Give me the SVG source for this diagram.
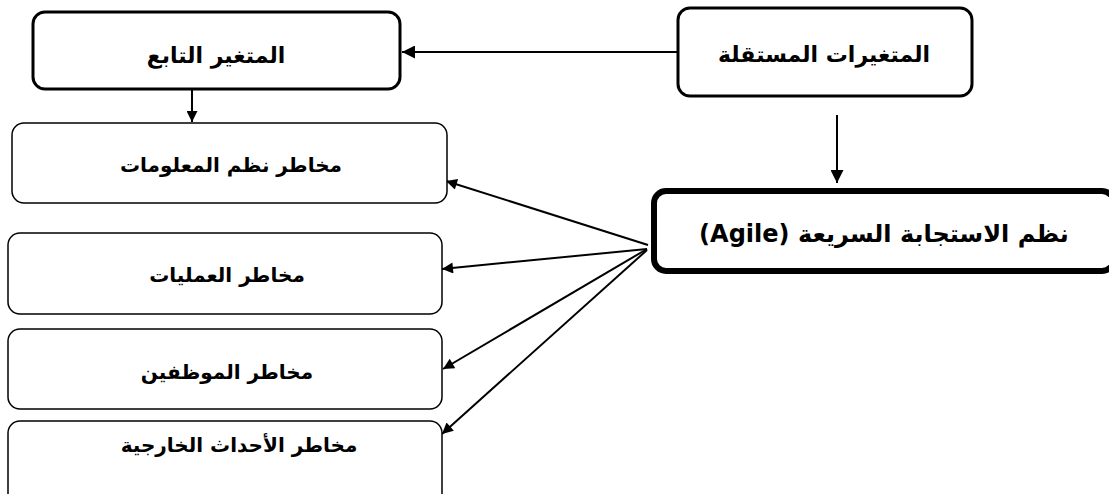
<svg xmlns="http://www.w3.org/2000/svg" width="1109" height="494" viewBox="0 0 1109 494">
<style>
.box{fill:#fff;stroke:#000;stroke-width:1.5}
.head{fill:#fff;stroke:#000;stroke-width:3}
.agile{fill:#fff;stroke:#000;stroke-width:6}
.t{font-family:"DejaVu Sans","Liberation Sans",sans-serif;font-weight:bold;text-anchor:middle;fill:#000}
.ln{stroke:#000;stroke-width:2;fill:none}
</style>
<defs>
<marker id="ah" viewBox="0 0 10 10" refX="10" refY="5" markerWidth="18" markerHeight="13" markerUnits="userSpaceOnUse" orient="auto"><path d="M0,0L10,5L0,10z" fill="#000"/></marker>
<marker id="as" viewBox="0 0 10 10" refX="10" refY="5" markerWidth="15" markerHeight="11" markerUnits="userSpaceOnUse" orient="auto"><path d="M0,0L10,5L0,10z" fill="#000"/></marker>
</defs>
<g id="connectors">
<line class="ln" x1="677" y1="52" x2="402" y2="52" marker-end="url(#ah)"/>
<line class="ln" x1="192" y1="90" x2="192" y2="122" marker-end="url(#as)"/>
<line class="ln" x1="837" y1="115" x2="837" y2="183" marker-end="url(#ah)"/>
<line class="ln" x1="648" y1="245" x2="446" y2="181" marker-end="url(#as)"/>
<line class="ln" x1="647" y1="249" x2="442" y2="269" marker-end="url(#as)"/>
<line class="ln" x1="647" y1="249" x2="443" y2="369" marker-end="url(#as)"/>
<line class="ln" x1="647" y1="250" x2="442" y2="434" marker-end="url(#as)"/>
</g>
<g id="dependent">
<rect class="head" x="33" y="12" width="367" height="77" rx="12"/>
<text class="t" x="216" y="63" font-size="22" direction="rtl">المتغير التابع</text>
</g>
<g id="independent">
<rect class="head" x="678" y="8" width="294" height="88" rx="12"/>
<text class="t" x="824" y="62" font-size="22" direction="rtl">المتغيرات المستقلة</text>
</g>
<g id="agile">
<rect class="agile" x="654" y="191" width="460" height="80" rx="12"/>
<text class="t" x="884" y="242" font-size="24" direction="rtl">نظم الاستجابة السريعة (Agile)</text>
</g>
<g id="risk1">
<rect class="box" x="12" y="123" width="435" height="80" rx="12"/>
<text class="t" x="231" y="172" font-size="20" direction="rtl">مخاطر نظم المعلومات</text>
</g>
<g id="risk2">
<rect class="box" x="8" y="233" width="434" height="81" rx="12"/>
<text class="t" x="227" y="282" font-size="20" direction="rtl">مخاطر العمليات</text>
</g>
<g id="risk3">
<rect class="box" x="8" y="329" width="434" height="80" rx="12"/>
<text class="t" x="227" y="379" font-size="20" direction="rtl">مخاطر الموظفين</text>
</g>
<g id="risk4">
<rect class="box" x="8" y="421" width="434" height="90" rx="12"/>
<text class="t" x="239" y="452" font-size="20" direction="rtl">مخاطر الأحداث الخارجية</text>
</g>
</svg>
